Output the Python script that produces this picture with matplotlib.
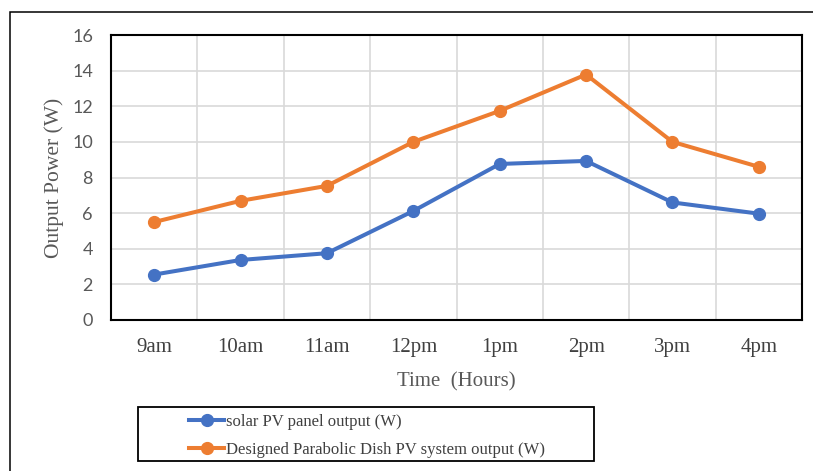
import matplotlib
matplotlib.use("Agg")
import matplotlib.pyplot as plt
from matplotlib.patches import Rectangle

hours = ["9am", "10am", "11am", "12pm", "1pm", "2pm", "3pm", "4pm"]
solar_pv = [2.55, 3.37, 3.75, 6.12, 8.76, 8.93, 6.6, 5.97]
dish_pv = [5.5, 6.69, 7.53, 10.0, 11.74, 13.78, 10.0, 8.6]
yticks = [0, 2, 4, 6, 8, 10, 12, 14, 16]

W, H = 813, 471
fig = plt.figure(figsize=(W / 100, H / 100), dpi=100)

# outer chart frame (cut off at right and bottom in the reference)
fig.patches.append(Rectangle((10 / W, -0.1), 1.2, 1 - 12 / H + 0.1,
                             transform=fig.transFigure, fill=False,
                             edgecolor="black", lw=1.1))

ax = fig.add_axes([111 / W, 1 - 320 / H, 691 / W, 285 / H])
x = list(range(len(hours)))
ax.plot(x, solar_pv, color="#4472C4", lw=2.9, marker="o", ms=8.5,
        label="solar PV panel output (W)", zorder=3)
ax.plot(x, dish_pv, color="#ED7D31", lw=2.9, marker="o", ms=8.5,
        label="Designed Parabolic Dish PV system output (W)", zorder=3)

ax.set_xlim(-0.5, len(hours) - 0.5)
ax.set_ylim(0, 16)
ax.set_yticks(yticks)
ax.set_xticks(x)
ax.set_xticklabels(hours, family="Liberation Serif", fontsize=15, color="#404040")
ax.set_xticks([i + 0.5 for i in range(len(hours) - 1)], minor=True)
for lab in ax.get_yticklabels():
    lab.set_family("Lato")
    lab.set_fontsize(13)
    lab.set_color("#595959")
ax.tick_params(which="both", length=0)
ax.tick_params(axis="x", pad=13)
ax.tick_params(axis="y", pad=13)
ax.grid(True, axis="y", which="major", color="#d9d9d9", lw=1.2)
ax.grid(True, axis="x", which="minor", color="#d9d9d9", lw=1.2)
ax.set_axisbelow(True)
for sp in ax.spines.values():
    sp.set_color("black")
    sp.set_linewidth(1.5)

ax.set_ylabel("Output Power (W)", family="Liberation Serif", fontsize=15.5,
              color="#595959", labelpad=6)
ax.set_xlabel("Time  (Hours)", family="Liberation Serif", fontsize=15,
              color="#595959", labelpad=11)

# legend box
fig.patches.append(Rectangle((138 / W, 1 - 461 / H), (594 - 138) / W, 54 / H,
                             transform=fig.transFigure, fill=False,
                             edgecolor="black", lw=1.3))
fig.legend(loc="center", bbox_to_anchor=(367 / W, 1 - 436 / H), frameon=False,
           prop={"family": "Liberation Serif", "size": 12},
           labelcolor="#404040", handlelength=2.1, handletextpad=0.1,
           labelspacing=0.75, borderpad=0)

fig.savefig("out.png", dpi=100)
